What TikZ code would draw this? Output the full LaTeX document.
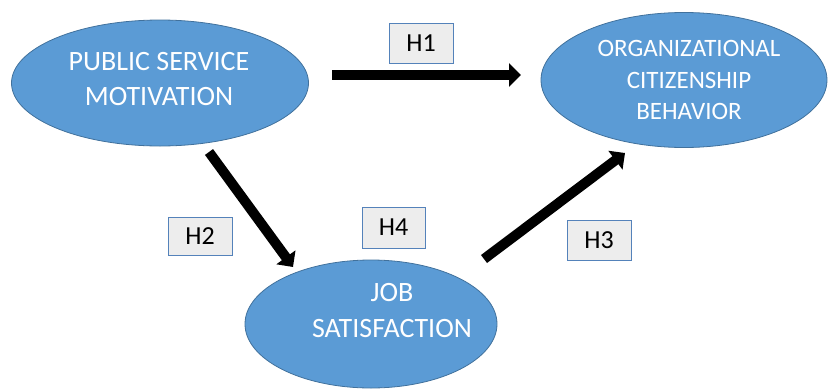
\documentclass[tikz,border=0pt]{standalone}
\usepackage{fontspec}
\setmainfont{Carlito}
\usetikzlibrary{shapes.geometric,arrows.meta}
\definecolor{ellfill}{RGB}{91,155,213}
\definecolor{ellline}{RGB}{65,113,156}
\definecolor{hfill}{RGB}{237,237,237}
\definecolor{hline}{RGB}{84,130,186}
\tikzset{
  ell/.style={ellipse, fill=ellfill, draw=ellline, line width=0.8pt, inner sep=0pt},
  elltext/.style={text=white, align=center, inner sep=0pt},
  hbox/.style={rectangle, fill=hfill, draw=hline, line width=0.9pt, inner sep=0pt, font=\fontsize{26}{30}\selectfont},
  bigarrow/.style={line width=10pt, -{Triangle[length=12pt,width=23pt]}}
}
\begin{document}
\begin{tikzpicture}[x=1pt,y=-1pt]
\useasboundingbox (0,0) rectangle (828,389);
% ellipses
\node[ell, minimum width=297pt, minimum height=126pt] (psm) at (160,83) {};
\node[ell, minimum width=286pt, minimum height=135pt] (ocb) at (684,80) {};
\node[ell, minimum width=252pt, minimum height=128pt] (js) at (371,324) {};
% texts
\node[elltext, font=\fontsize{28}{35}\selectfont] (psmtext) at (159,79) {PUBLIC SERVICE\\MOTIVATION};
\node[elltext, font=\fontsize{25}{31.5}\selectfont] (ocbtext) at (689,80) {ORGANIZATIONAL\\CITIZENSHIP\\BEHAVIOR};
\node[elltext, font=\fontsize{28}{36}\selectfont] (jstext) at (392,311) {JOB\\SATISFACTION};
% hypothesis boxes
\node[hbox, minimum width=64pt, minimum height=40pt] (h1) at (421,43) {H1};
\node[hbox, minimum width=64pt, minimum height=38pt] (h2) at (200,236) {H2};
\node[hbox, minimum width=64pt, minimum height=40pt] (h3) at (599,240) {H3};
\node[hbox, minimum width=63pt, minimum height=41pt] (h4) at (393.5,227.5) {H4};
% arrow end points
\coordinate (a1s) at (332,75);
\coordinate (a1e) at (521,75);
\coordinate (a2s) at (209,152);
\coordinate (a2e) at (293,267);
\coordinate (a3s) at (484,259);
\coordinate (a3e) at (625,153);
\draw[bigarrow] (a1s) -- (a1e);
\draw[bigarrow] (a2s) -- (a2e);
\draw[bigarrow] (a3s) -- (a3e);
\end{tikzpicture}
\end{document}
